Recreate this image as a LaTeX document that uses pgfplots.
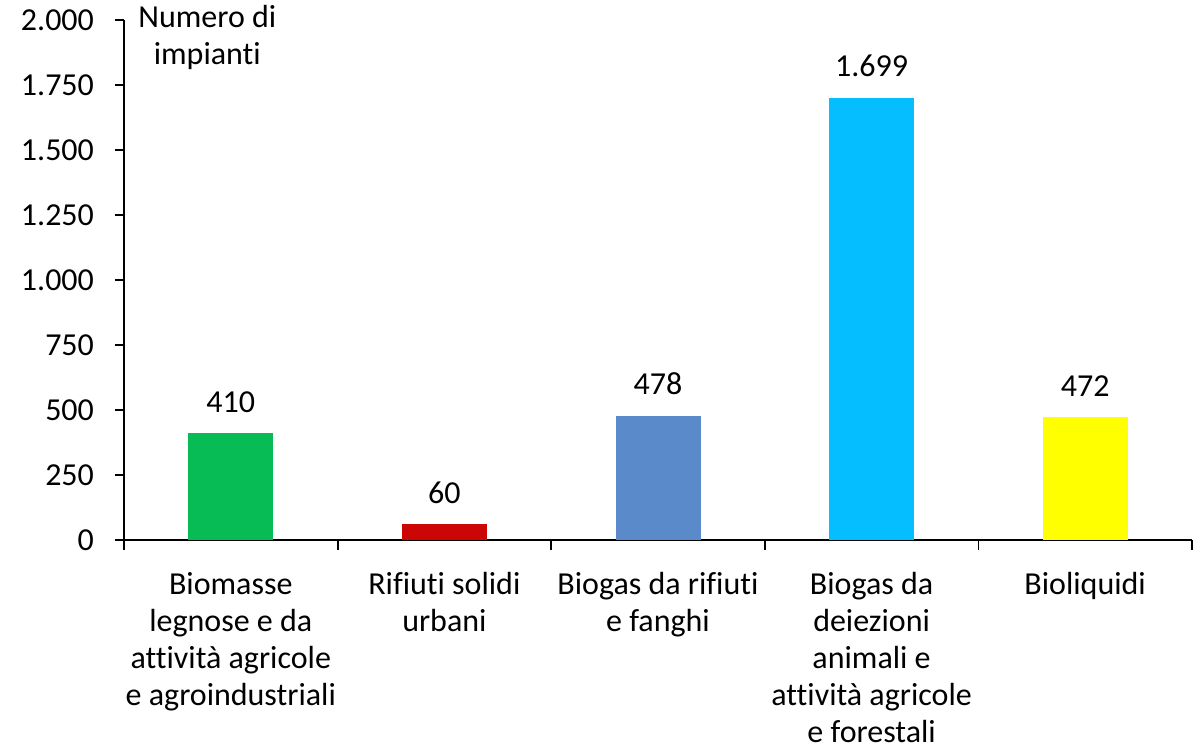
\documentclass[border=0pt]{standalone}
\usepackage{pgfplots}
\pgfplotsset{compat=1.18}
\usepackage{fontspec}
\setmainfont{Carlito}[Ligatures={NoCommon}]
\definecolor{cgreen}{HTML}{08BC55}
\definecolor{cred}{HTML}{CC0605}
\definecolor{cblue}{HTML}{5B8ACB}
\definecolor{ccyan}{HTML}{05BEFF}
\definecolor{cyellow}{HTML}{FFFF00}
\newcommand{\cf}{\fontsize{16pt}{18.5pt}\selectfont}
\begin{document}
\cf
\begin{tikzpicture}
\useasboundingbox (-62pt,-105.5pt) rectangle (539pt,270pt);
\begin{axis}[
  at={(0,0)}, anchor=south west,
  scale only axis,
  width=534pt, height=260pt,
  xmin=-0.5, xmax=4.5,
  ymin=0, ymax=2000,
  axis x line=bottom, axis y line=left,
  axis line style={line width=0.9pt, black, -},
  ytick={0,250,...,2000},
  xtick={0,1,2,3,4},
  minor xtick={-0.5,0.5,1.5,2.5,3.5,4.5},
  major x tick style={draw=none},
  minor tick length=5pt,
  major tick length=4.5pt,
  tick align=outside,
  tick style={line width=0.9pt, black},
  xticklabels={{Biomasse\\legnose e da\\attività agricole\\e agroindustriali},
               {Rifiuti solidi\\urbani},
               {Biogas da rifiuti\\e fanghi},
               {Biogas da\\deiezioni\\animali e\\attività agricole\\e forestali},
               {Bioliquidi}},
  xticklabel style={align=center, font=\cf, yshift=-6pt},
  yticklabel style={font=\cf, xshift=-5pt},
  /pgf/number format/.cd, 1000 sep={.}, use comma=false, fixed,
  /pgf/number format/assume math mode=true,
  /pgfplots/.cd,
  ybar, bar width=42.5pt,
  bar shift=0pt,
  nodes near coords,
  every node near coord/.append style={font=\cf, yshift=5pt, black},
  clip=false,
]
\addplot[fill=cgreen, draw=none] coordinates {(0,410)};
\addplot[fill=cred, draw=none] coordinates {(1,60)};
\addplot[fill=cblue, draw=none] coordinates {(2,478)};
\addplot[fill=ccyan, draw=none] coordinates {(3,1699)};
\addplot[fill=cyellow, draw=none] coordinates {(4,472)};
\node[align=center, anchor=base, font=\cf] at (axis cs:-0.11,1827) {Numero di\\impianti};
\end{axis}
\end{tikzpicture}
\end{document}
